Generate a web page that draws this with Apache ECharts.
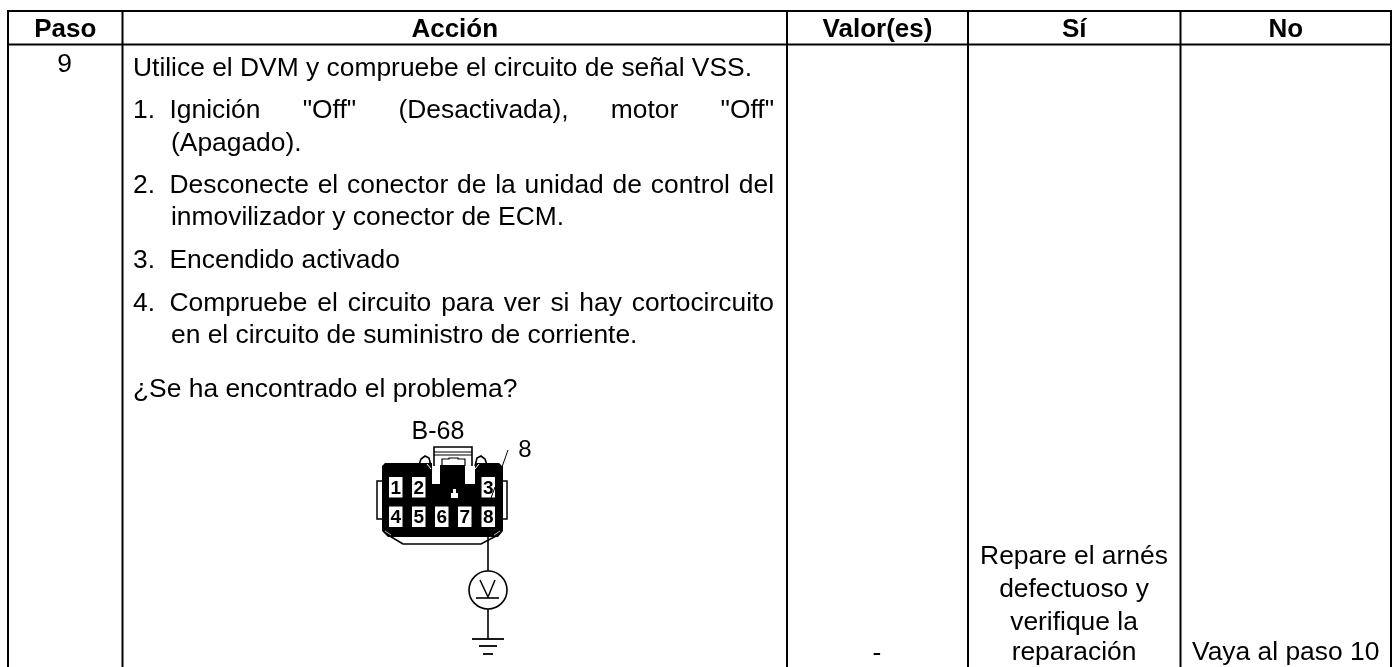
<!DOCTYPE html>
<html>
<head>
<meta charset="utf-8">
<style>
  html, body { margin: 0; background: #fff; }
  #main { width: 1392px; height: 667px; }
</style>
<script src="https://cdn.jsdelivr.net/npm/echarts@6/dist/echarts.min.js"></script>
</head>
<body>
<div id="main"></div>
<script>
// table text
const headers = ['Paso', 'Acción', 'Valor(es)', 'Sí', 'No']
const stepNumber = '9'
const actionLines = [
  ['', 'Utilice el DVM y compruebe el circuito de señal VSS.'],
  ['1.', 'Ignición "Off" (Desactivada), motor "Off"'],
  ['', '(Apagado).'],
  ['2.', 'Desconecte el conector de la unidad de control del'],
  ['', 'inmovilizador y conector de ECM.'],
  ['3.', 'Encendido activado'],
  ['4.', 'Compruebe el circuito para ver si hay cortocircuito'],
  ['', 'en el circuito de suministro de corriente.'],
  ['', '¿Se ha encontrado el problema?']
]
const valueText = '-'
const yesLines = ['Repare el arnés', 'defectuoso y', 'verifique la', 'reparación']
const noText = 'Vaya al paso 10'
const connectorName = 'B-68'
const probedPin = '8'
const pinsTop = ['1', '2', '3']
const pinsBottom = ['4', '5', '6', '7', '8']

// layout
const FONT = '"Liberation Sans", Arial, sans-serif'
const SIZE = 26.4
const colEdges = [7, 121.5, 786, 967, 1179.5, 1390]
const actionBase = [76, 118, 151, 193, 225, 268, 311, 343, 397]
const justified = [false, true, false, true, false, false, true, false, false]
const yesBase = [564, 597, 630, 660]

const ctx = document.createElement('canvas').getContext('2d')
ctx.font = SIZE + 'px ' + FONT

const graphic = []

function text(str, x, baseline, opts) {
  opts = opts || {}
  const size = opts.size || SIZE
  graphic.push({
    type: 'text',
    x: x,
    y: baseline + size * 0.21,
    style: {
      text: str,
      fill: opts.fill || '#000',
      font: (opts.bold ? 'bold ' : '') + size + 'px ' + FONT,
      align: opts.align || 'left',
      verticalAlign: 'bottom'
    }
  })
}

function box(x, y, w, h, fill) {
  graphic.push({ type: 'rect', shape: { x: x, y: y, width: w, height: h }, style: { fill: fill || '#000' } })
}

function line(points, width, stroke) {
  graphic.push({
    type: 'polyline',
    shape: { points: points },
    style: { stroke: stroke || '#000', fill: null, lineWidth: width || 1.5 }
  })
}

// table rules
colEdges.forEach(x => box(x, 10, 2, 657))
box(7, 10, 1385, 2)
box(7, 43.5, 1385, 2)

headers.forEach((h, i) => {
  text(h, (colEdges[i] + colEdges[i + 1] + 2) / 2, 37, { bold: true, size: 26, align: 'center' })
})
text(stepNumber, 64.5, 72, { align: 'center' })

// action column, some lines are justified to the right edge
const rightEdge = 774
const numX = 133
const indentX = 171
actionLines.forEach((row, i) => {
  const [num, body] = row
  const base = actionBase[i]
  if (num) text(num, numX, base)
  const x0 = num ? 169.5 : (i === 2 || i === 4 || i === 7 ? indentX : numX)
  if (!justified[i]) {
    text(body, x0, base)
    return
  }
  const words = body.split(' ')
  const used = words.reduce((s, w) => s + ctx.measureText(w).width, 0)
  const gap = (rightEdge - x0 - used) / (words.length - 1)
  let x = x0
  words.forEach(w => {
    text(w, x, base)
    x += ctx.measureText(w).width + gap
  })
})

text(valueText, 877, 661, { align: 'center' })
yesLines.forEach((l, i) => text(l, 1074, yesBase[i], { align: 'center' }))
text(noText, 1192, 660.5)

// connector drawing
text(connectorName, 438, 439, { size: 25, align: 'center' })
text(probedPin, 525, 457, { size: 24, align: 'center' })
line([[508, 450], [502, 467]], 1)

// latch above the body
line([[434, 466], [434, 447], [472, 447], [472, 466]], 1.6)
line([[434, 452], [472, 452]], 1.2)
line([[434, 455], [472, 455]], 1.2)
line([[442, 466], [442, 459], [449, 459], [449, 458], [458, 458], [458, 459], [465, 459], [465, 466]], 1.2)
// arches
line([[419, 465], [421, 459], [425, 456], [429, 458], [431, 466]], 1.6)
line([[475, 466], [477, 458], [481, 456], [485, 459], [487, 465]], 1.6)
// side tabs
line([[382, 481], [377, 481], [377, 519], [382, 519]], 1.5)
line([[503, 481], [507, 481], [507, 519], [503, 519]], 1.5)
// skirt below the body
line([[388, 535], [403, 544], [481, 544], [498, 535]], 1.5)

graphic.push({
  type: 'polygon',
  shape: { points: [[385, 463], [432, 463], [432, 484], [440, 484], [440, 465], [465, 465],
    [465, 484], [475, 484], [475, 463], [499, 463], [503, 467], [503, 531], [498, 537],
    [388, 537], [382, 531], [382, 466]] },
  style: { fill: '#000' }
})
// white nicks under the arches and at the lower corners
line([[427, 464], [431, 469]], 1, '#fff')
line([[479, 464], [475, 469]], 1, '#fff')
line([[385, 531], [391, 535]], 1, '#bbb')
line([[500, 531], [494, 535]], 1, '#bbb')

const pinX = [389, 412, 435, 458, 481.5]
const pinW = 13.5
pinsTop.forEach((p, i) => {
  const x = i === 2 ? pinX[4] : pinX[i]
  box(x, 477, pinW, 20.5, '#fff')
  text(p, x + pinW / 2, 494, { size: 19, bold: true, align: 'center' })
})
pinsBottom.forEach((p, i) => {
  box(pinX[i], 506.5, pinW, 20.5, '#fff')
  text(p, pinX[i] + pinW / 2, 523.5, { size: 19, bold: true, align: 'center' })
})
// little key mark in the middle
box(451, 493, 7, 5, '#fff')
box(453, 489, 3, 4, '#fff')
// lead going through pin 3 towards pin 8
line([[495, 487], [491, 498]], 1)

// wire, meter, ground
line([[488, 527], [488, 571]], 1.6)
graphic.push({
  type: 'circle',
  shape: { cx: 488, cy: 590, r: 19 },
  style: { stroke: '#000', fill: '#fff', lineWidth: 1.6 }
})
line([[480, 580], [488, 597], [495, 580]], 1.5)
line([[476, 598], [499, 598]], 1.6)
line([[488, 609], [488, 639]], 1.6)
line([[472, 639], [504, 639]], 1.8)
line([[479, 646], [497, 646]], 1.8)
line([[483, 654], [493, 654]], 1.8)

const chart = echarts.init(document.getElementById('main'), null, { renderer: 'canvas' })
chart.setOption({
  backgroundColor: '#fff',
  animation: false,
  graphic: { elements: graphic }
})
</script>
</body>
</html>
